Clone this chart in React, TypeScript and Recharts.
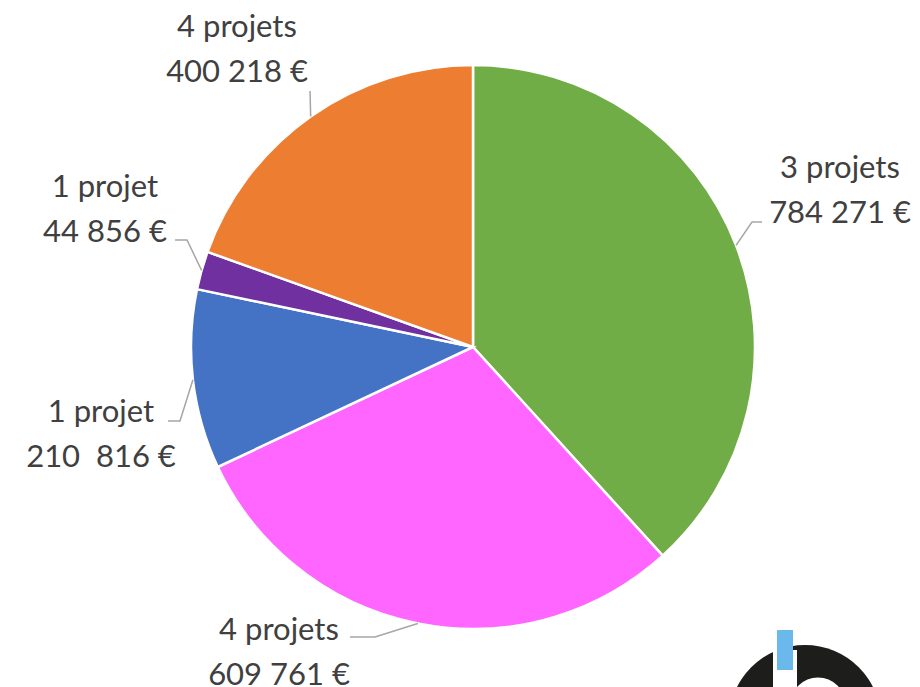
import { Pie, PieChart, Cell } from 'recharts'

const categories = ['3 projets', '4 projets', '1 projet', '1 projet', '4 projets']
const amounts = [784271, 609761, 210816, 44856, 400218]
const amountLabels = ['784 271 €', '609 761 €', '210  816 €', '44 856 €', '400 218 €']
const colors = ['#70AD47', '#FF66FF', '#4472C4', '#7030A0', '#ED7D31']

// leader elbow / end and text centre for each slice label
const labelLayout = [
  { elbow: [752, 222], end: [762, 222], tx: 840, ty: 166 },
  { elbow: [375, 637], end: [350, 637], tx: 279, ty: 628 },
  { elbow: [180, 421], end: [168, 421], tx: 101, ty: 410 },
  { elbow: [187, 240], end: [175, 240], tx: 105, ty: 185 },
  { elbow: [310, 91], end: [310, 91], tx: 237, ty: 25 },
]

const data = categories.map((c, i) => ({ name: c, value: amounts[i], amount: amountLabels[i] }))

const RAD = Math.PI / 180
const textStyle = { fontFamily: 'Lato, sans-serif', fontSize: 31, fill: '#404040' }

function renderLabel(props: any) {
  const { cx, cy, midAngle, outerRadius, index } = props
  const sx = cx + outerRadius * Math.cos(-midAngle * RAD)
  const sy = cy + outerRadius * Math.sin(-midAngle * RAD)
  const l = labelLayout[index]
  return (
    <g>
      <polyline
        points={`${sx},${sy} ${l.elbow[0]},${l.elbow[1]} ${l.end[0]},${l.end[1]}`}
        fill="none"
        stroke="#A6A6A6"
        strokeWidth={1.5}
      />
      <text x={l.tx} y={l.ty} textAnchor="middle" dominantBaseline="central" style={textStyle}>
        {data[index].name}
      </text>
      <text x={l.tx} y={l.ty + 45} textAnchor="middle" dominantBaseline="central" style={{ ...textStyle, whiteSpace: 'pre' }}>
        {data[index].amount}
      </text>
    </g>
  )
}

function Logo() {
  return (
    <svg width={920} height={687} style={{ position: 'absolute', left: 0, top: 0, pointerEvents: 'none' }}>
      <circle cx={805} cy={721} r={76} fill="#1D1D1B" />
      <circle cx={818} cy={705} r={22} fill="none" stroke="#fff" strokeWidth={11} />
      <rect x={773} y={650} width={24} height={40} fill="#fff" />
      <rect x={777} y={630} width={16} height={40} fill="#6BB9EC" />
    </svg>
  )
}

export default function App() {
  return (
    <div style={{ position: 'absolute', left: 0, top: 0, width: 920, height: 687, background: '#fff', overflow: 'hidden' }}>
      <PieChart width={920} height={687} margin={{ top: 0, right: 0, bottom: 0, left: 0 }}>
        <Pie
          data={data}
          dataKey="value"
          cx={473}
          cy={347}
          outerRadius={282}
          startAngle={90}
          endAngle={-270}
          stroke="#fff"
          strokeWidth={2.5}
          label={renderLabel}
          labelLine={false}
          isAnimationActive={false}
        >
          {data.map((d, i) => (
            <Cell key={i} fill={colors[i]} />
          ))}
        </Pie>
      </PieChart>
      <Logo />
    </div>
  )
}
